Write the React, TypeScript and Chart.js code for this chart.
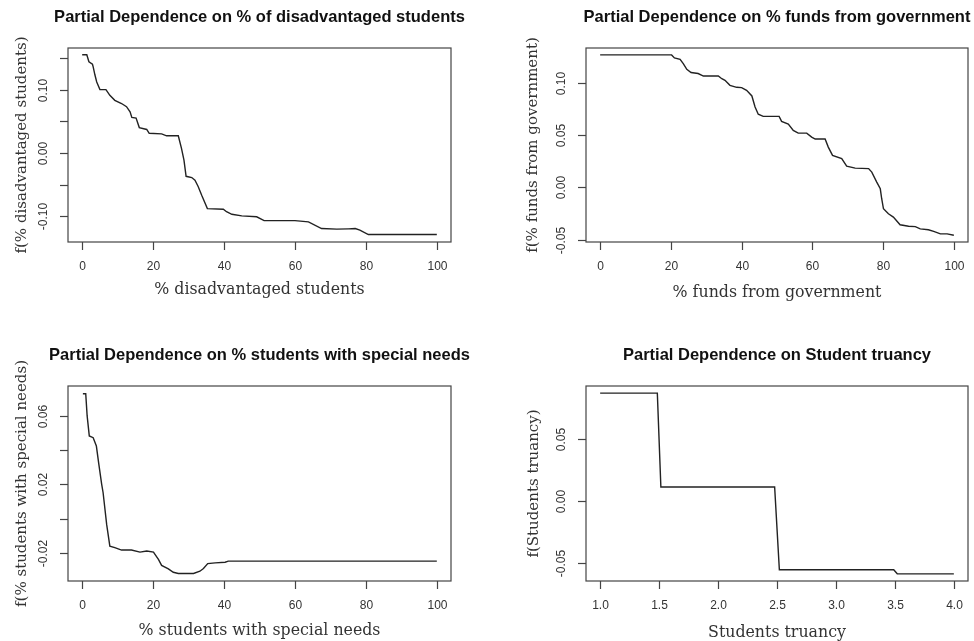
import React, { useEffect, useRef } from 'react';
import { Chart, registerables } from 'chart.js';

Chart.register(...registerables);

// ---- Panel 1: % of disadvantaged students ----
const disadvX = [0, 1.3, 1.9, 2.9, 3.1, 3.6, 4.1, 5.0, 6.7, 7.8, 9.2, 11.1, 12.5, 13.5, 14.0, 15.2, 16.1, 18.2, 18.9, 22.4, 23.8, 27.1, 28.0, 28.7, 29.3, 30.9, 31.8, 32.7, 33.7, 35.3, 39.8, 40.7, 42.2, 45.0, 49.2, 51.3, 60.0, 63.8, 67.5, 71.8, 75.1, 77.0, 78.3, 80.7, 100];
const disadvY = [0.155, 0.155, 0.144, 0.140, 0.136, 0.123, 0.112, 0.100, 0.100, 0.091, 0.083, 0.078, 0.073, 0.065, 0.056, 0.055, 0.040, 0.037, 0.031, 0.030, 0.027, 0.027, 0.007, -0.0115, -0.037, -0.039, -0.043, -0.053, -0.067, -0.088, -0.089, -0.093, -0.097, -0.0995, -0.101, -0.107, -0.107, -0.109, -0.1195, -0.1205, -0.120, -0.1195, -0.122, -0.129, -0.129];
const disadvXTicks = [0, 20, 40, 60, 80, 100];
const disadvXTickLabels = ['0', '20', '40', '60', '80', '100'];
const disadvYTicks = [-0.10, -0.05, 0, 0.05, 0.10, 0.15];
const disadvYTickLabels = ['-0.10', '', '0.00', '', '0.10', ''];

// ---- Panel 2: % funds from government ----
const fundsX = [0, 20.2, 21, 22.6, 23.5, 24.5, 25.7, 27.7, 29.2, 33.4, 34.4, 35.3, 36.7, 38.6, 40.0, 41.4, 42.9, 43.8, 44.7, 46.1, 50.6, 51.3, 53.2, 54.6, 56.0, 58.4, 59.8, 60.8, 63.6, 64.5, 65.7, 68.3, 69.7, 72.1, 75.9, 76.8, 78.2, 79.2, 79.6, 80.1, 81.5, 82.9, 84.8, 87.2, 89.1, 90.5, 92.8, 94.3, 96.2, 98.1, 100];
const fundsY = [0.1268, 0.1268, 0.1239, 0.1226, 0.1185, 0.113, 0.110, 0.109, 0.1066, 0.1066, 0.104, 0.1025, 0.0977, 0.0958, 0.0955, 0.0929, 0.0875, 0.077, 0.070, 0.068, 0.068, 0.0632, 0.0606, 0.0546, 0.052, 0.052, 0.0482, 0.0463, 0.0463, 0.0386, 0.0307, 0.0275, 0.0204, 0.0185, 0.018, 0.0147, 0.0051, -0.0013, -0.0108, -0.0204, -0.0252, -0.0284, -0.0357, -0.0371, -0.0375, -0.0396, -0.0405, -0.0421, -0.0444, -0.0444, -0.0457];
const fundsXTicks = [0, 20, 40, 60, 80, 100];
const fundsXTickLabels = ['0', '20', '40', '60', '80', '100'];
const fundsYTicks = [-0.05, 0, 0.05, 0.10];
const fundsYTickLabels = ['-0.05', '0.00', '0.05', '0.10'];

// ---- Panel 3: % students with special needs ----
const specialX = [0.2, 1.0, 1.4, 2.0, 3.1, 4.0, 4.7, 5.5, 5.9, 6.9, 7.8, 9.2, 11.1, 13.9, 16.3, 18.2, 20.1, 21.5, 22.4, 24.3, 25.7, 27.1, 31.4, 33.2, 34.2, 35.4, 37.5, 40.3, 41.2, 100];
const specialY = [0.073, 0.073, 0.060, 0.0483, 0.0473, 0.0424, 0.0317, 0.020, 0.0151, -0.0034, -0.0161, -0.017, -0.0184, -0.0184, -0.0196, -0.019, -0.0196, -0.0239, -0.0274, -0.0294, -0.0314, -0.0321, -0.0321, -0.0308, -0.0292, -0.0263, -0.0259, -0.0255, -0.0249, -0.0249];
const specialXTicks = [0, 20, 40, 60, 80, 100];
const specialXTickLabels = ['0', '20', '40', '60', '80', '100'];
const specialYTicks = [-0.02, 0, 0.02, 0.04, 0.06];
const specialYTickLabels = ['-0.02', '', '0.02', '', '0.06'];

// ---- Panel 4: Student truancy ----
const truancyX = [1.0, 1.485, 1.515, 2.48, 2.52, 3.49, 3.52, 4.0];
const truancyY = [0.0873, 0.0873, 0.0114, 0.0114, -0.0555, -0.0555, -0.0588, -0.0588];
const truancyXTicks = [1.0, 1.5, 2.0, 2.5, 3.0, 3.5, 4.0];
const truancyXTickLabels = ['1.0', '1.5', '2.0', '2.5', '3.0', '3.5', '4.0'];
const truancyYTicks = [-0.05, 0, 0.05];
const truancyYTickLabels = ['-0.05', '0.00', '0.05'];

type PanelProps = {
  left: number;
  top: number;
  width: number;
  height: number;
  pad: { left: number; right: number; top: number; bottom: number };
  title: string;
  xLabel: string;
  yLabel: string;
  xs: number[];
  ys: number[];
  xMin: number;
  xMax: number;
  yMin: number;
  yMax: number;
  xTicks: number[];
  xTickLabels: string[];
  yTicks: number[];
  yTickLabels: string[];
  xTitleOffset: number;
  yTitleOffset: number;
};

const SERIF = '"DejaVu Serif", serif';
const SANS = '"Liberation Sans", Arial, sans-serif';

function Panel(p: PanelProps) {
  const ref = useRef<HTMLCanvasElement | null>(null);
  useEffect(() => {
    if (!ref.current) return;
    const decor = {
      id: 'rDecor',
      afterDraw(chart: any) {
        const ctx = chart.ctx as CanvasRenderingContext2D;
        const a = chart.chartArea;
        const xs = chart.scales.x;
        const ys = chart.scales.y;
        ctx.save();
        // box
        ctx.strokeStyle = '#444';
        ctx.lineWidth = 1.2;
        ctx.strokeRect(a.left, a.top, a.right - a.left, a.bottom - a.top);
        // x ticks
        ctx.fillStyle = '#333';
        ctx.font = `12px ${SANS}`;
        ctx.textAlign = 'center';
        ctx.textBaseline = 'middle';
        p.xTicks.forEach((v, i) => {
          const px = Math.round(xs.getPixelForValue(v)) + 0.5;
          ctx.beginPath();
          ctx.moveTo(px, a.bottom);
          ctx.lineTo(px, a.bottom + 8);
          ctx.stroke();
          ctx.fillText(p.xTickLabels[i], px, a.bottom + 25);
        });
        // y ticks
        p.yTicks.forEach((v, i) => {
          const py = Math.round(ys.getPixelForValue(v)) + 0.5;
          ctx.beginPath();
          ctx.moveTo(a.left - 8, py);
          ctx.lineTo(a.left, py);
          ctx.stroke();
          if (p.yTickLabels[i]) {
            ctx.save();
            ctx.translate(a.left - 24, py);
            ctx.rotate(-Math.PI / 2);
            ctx.fillText(p.yTickLabels[i], 0, 0);
            ctx.restore();
          }
        });
        // title
        ctx.fillStyle = '#111';
        ctx.font = `bold 16.5px ${SANS}`;
        ctx.fillText(p.title, (a.left + a.right) / 2, a.top - 30.5);
        // x axis title
        ctx.fillStyle = '#333';
        ctx.font = `15.8px ${SERIF}`;
        ctx.fillText(p.xLabel, (a.left + a.right) / 2, a.bottom + p.xTitleOffset);
        // y axis title
        ctx.font = `15px ${SERIF}`;
        ctx.save();
        ctx.translate(a.left - p.yTitleOffset, (a.top + a.bottom) / 2);
        ctx.rotate(-Math.PI / 2);
        ctx.fillText(p.yLabel, 0, 0);
        ctx.restore();
        ctx.restore();
      },
    };
    const chart = new Chart(ref.current, {
      type: 'line',
      data: {
        datasets: [
          {
            data: p.xs.map((x, i) => ({ x, y: p.ys[i] })),
            borderColor: '#222',
            borderWidth: 1.4,
            pointRadius: 0,
            tension: 0,
            fill: false,
          },
        ],
      },
      options: {
        animation: false,
        responsive: false,
        devicePixelRatio: 1,
        layout: { padding: p.pad },
        plugins: { legend: { display: false }, tooltip: { enabled: false }, title: { display: false } },
        scales: {
          x: { type: 'linear', display: false, min: p.xMin, max: p.xMax },
          y: { type: 'linear', display: false, min: p.yMin, max: p.yMax },
        },
      },
      plugins: [decor],
    } as any);
    return () => chart.destroy();
  }, []);
  return (
    <canvas
      ref={ref}
      width={p.width}
      height={p.height}
      style={{ position: 'absolute', left: p.left, top: p.top, width: p.width, height: p.height }}
    />
  );
}

export default function App() {
  return (
    <div style={{ position: 'fixed', left: 0, top: 0, width: 974, height: 641, background: '#fff', overflow: 'hidden' }}>
      <Panel
        left={0} top={0} width={487} height={320}
        pad={{ left: 68, right: 36, top: 48, bottom: 78 }}
        title="Partial Dependence on % of disadvantaged students"
        xLabel="% disadvantaged students"
        yLabel="f(% disadvantaged students)"
        xs={disadvX} ys={disadvY}
        xMin={-4} xMax={104} yMin={-0.1408} yMax={0.1657}
        xTicks={disadvXTicks} xTickLabels={disadvXTickLabels}
        yTicks={disadvYTicks} yTickLabels={disadvYTickLabels}
        xTitleOffset={48} yTitleOffset={46}
      />
      <Panel
        left={487} top={0} width={487} height={320}
        pad={{ left: 99, right: 6, top: 48, bottom: 78 }}
        title="Partial Dependence on % funds from government"
        xLabel="% funds from government"
        yLabel="f(% funds from government)"
        xs={fundsX} ys={fundsY}
        xMin={-4} xMax={104} yMin={-0.0522} yMax={0.1334}
        xTicks={fundsXTicks} xTickLabels={fundsXTickLabels}
        yTicks={fundsYTicks} yTickLabels={fundsYTickLabels}
        xTitleOffset={51} yTitleOffset={53}
      />
      <Panel
        left={0} top={320} width={487} height={321}
        pad={{ left: 68, right: 36, top: 66, bottom: 60 }}
        title="Partial Dependence on % students with special needs"
        xLabel="% students with special needs"
        yLabel="f(% students with special needs)"
        xs={specialX} ys={specialY}
        xMin={-4} xMax={104} yMin={-0.0365} yMax={0.0775}
        xTicks={specialXTicks} xTickLabels={specialXTickLabels}
        yTicks={specialYTicks} yTickLabels={specialYTickLabels}
        xTitleOffset={49.5} yTitleOffset={46}
      />
      <Panel
        left={487} top={320} width={487} height={321}
        pad={{ left: 99, right: 6, top: 66, bottom: 60 }}
        title="Partial Dependence on Student truancy"
        xLabel="Students truancy"
        yLabel="f(Students truancy)"
        xs={truancyX} ys={truancyY}
        xMin={0.88} xMax={4.12} yMin={-0.0646} yMax={0.0931}
        xTicks={truancyXTicks} xTickLabels={truancyXTickLabels}
        yTicks={truancyYTicks} yTickLabels={truancyYTickLabels}
        xTitleOffset={51.5} yTitleOffset={52}
      />
    </div>
  );
}
